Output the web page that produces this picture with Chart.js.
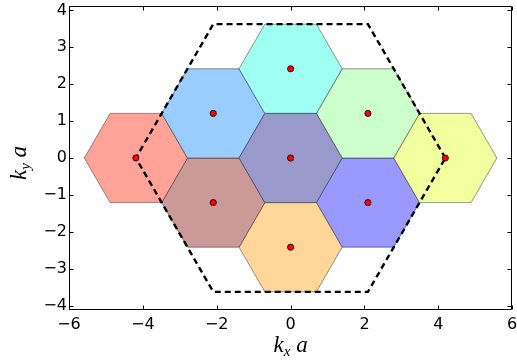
<!DOCTYPE html>
<html>
<head>
<meta charset="utf-8">
<script src="https://cdn.jsdelivr.net/npm/chart.js@4.4.0/dist/chart.umd.min.js"></script>
<style>
  html, body { margin: 0; padding: 0; background: #ffffff; }
  #wrap { width: 517px; height: 361px; }
</style>
</head>
<body>
<div id="wrap"><canvas id="c" width="517" height="361"></canvas></div>
<script>
// ---- data ----
const xTicks = [-6, -4, -2, 0, 2, 4, 6];
const yTicks = [-4, -3, -2, -1, 0, 1, 2, 3, 4];
const xRange = [-6, 6];
const yRange = [-4.12, 4.12];
const hexCentersX = [0, 0, -2.094, 2.094, -4.189, 4.189, -2.094, 0, 2.094];
const hexCentersY = [0, 2.418, 1.209, 1.209, 0, 0, -1.209, -2.418, -1.209];
const hexColors = ['#9999cc', '#9ffff0', '#99ccff', '#ccffcc', '#ffa399', '#f2ff9f', '#cc9999', '#ffd699', '#9999ff'];
const hexRadius = 1.396;
const dashX = [4.189, 2.094, -2.094, -4.189, -2.094, 2.094, 4.189];
const dashY = [0, 3.628, 3.628, 0, -3.628, -3.628, 0];
const xLabel = ['k', 'x', ' a'];
const yLabel = ['k', 'y', ' a'];

// hexagon outline (flat-top) from centre and radius
function hexPoints(cx, cy, r) {
  const pts = [];
  for (let k = 0; k <= 6; k++) {
    const ang = Math.PI / 3 * k;
    pts.push({ x: cx + r * Math.cos(ang), y: cy + r * Math.sin(ang) });
  }
  return pts;
}

const datasets = [];
datasets.push({
  label: 'centres',
  data: hexCentersX.map((x, i) => ({ x: x, y: hexCentersY[i] })),
  showLine: false,
  pointRadius: 3.1,
  pointBackgroundColor: '#ff0000',
  pointBorderColor: '#000000',
  pointBorderWidth: 0.8,
  order: 0
});
datasets.push({
  label: 'BZ',
  data: dashX.map((x, i) => ({ x: x, y: dashY[i] })),
  showLine: true,
  fill: false,
  borderColor: '#000000',
  borderWidth: 2.4,
  borderDash: [6, 4],
  pointRadius: 0,
  tension: 0,
  order: 1
});
hexCentersX.forEach((cx, i) => {
  datasets.push({
    label: 'hex' + i,
    data: hexPoints(cx, hexCentersY[i], hexRadius),
    showLine: true,
    fill: 'shape',
    backgroundColor: hexColors[i],
    borderColor: 'rgba(0,0,0,0.4)',
    borderWidth: 1,
    pointRadius: 0,
    tension: 0,
    order: 2
  });
});

const minus = v => String(v).replace('-', '\u2212');

const framePlugin = {
  id: 'frame',
  afterDraw(chart) {
    const ctx = chart.ctx, a = chart.chartArea;
    const xs = chart.scales.x, ys = chart.scales.y;
    ctx.save();
    ctx.strokeStyle = '#000';
    ctx.lineWidth = 1;
    ctx.beginPath();
    const L = Math.round(a.left) + 0.5, R = Math.round(a.right) - 0.5;
    const T = Math.round(a.top) + 0.5, B = Math.round(a.bottom) - 0.5;
    ctx.rect(L, T, R - L, B - T);
    ctx.stroke();
    const tl = 4;
    ctx.beginPath();
    xTicks.forEach(v => {
      const px = Math.round(xs.getPixelForValue(v)) + 0.5;
      ctx.moveTo(px, B); ctx.lineTo(px, B - tl);
      ctx.moveTo(px, T); ctx.lineTo(px, T + tl);
    });
    yTicks.forEach(v => {
      const py = Math.round(ys.getPixelForValue(v)) + 0.5;
      ctx.moveTo(L, py); ctx.lineTo(L + tl, py);
      ctx.moveTo(R, py); ctx.lineTo(R - tl, py);
    });
    ctx.stroke();

    // axis titles (math-style italic with subscript)
    const big = 'italic 23px "Liberation Serif", "DejaVu Serif", serif';
    const small = 'italic 15px "Liberation Serif", "DejaVu Serif", serif';
    function drawLabel(parts, cx, baseY) {
      ctx.font = big; const w0 = ctx.measureText(parts[0]).width;
      const w2 = ctx.measureText(parts[2]).width;
      ctx.font = small; const w1 = ctx.measureText(parts[1]).width;
      const total = w0 + w1 + w2;
      let x = cx - total / 2;
      ctx.fillStyle = '#000';
      ctx.textBaseline = 'alphabetic';
      ctx.textAlign = 'left';
      ctx.font = big; ctx.fillText(parts[0], x, baseY); x += w0;
      ctx.font = small; ctx.fillText(parts[1], x, baseY + 4); x += w1;
      ctx.font = big; ctx.fillText(parts[2], x, baseY);
    }
    drawLabel(xLabel, (a.left + a.right) / 2, 352);
    ctx.save();
    ctx.translate(26, 163);
    ctx.rotate(-Math.PI / 2);
    drawLabel(yLabel, 0, 0);
    ctx.restore();
    ctx.restore();
  }
};

new Chart(document.getElementById('c'), {
  type: 'scatter',
  data: { datasets: datasets },
  options: {
    responsive: false,
    animation: false,
    devicePixelRatio: 1,
    layout: { padding: { left: 0, right: 3, top: 6, bottom: 0 } },
    plugins: { legend: { display: false }, tooltip: { enabled: false } },
    scales: {
      x: {
        type: 'linear', min: xRange[0], max: xRange[1],
        afterBuildTicks(s) { s.ticks = xTicks.map(v => ({ value: v })); },
        afterFit(s) { s.height = 51; s.paddingLeft = 0; s.paddingRight = 0; },
        grid: { display: false, drawTicks: false },
        border: { display: false },
        ticks: {
          padding: 5, color: '#000', maxRotation: 0, autoSkip: false,
          font: { family: '"DejaVu Sans"', size: 16 },
          callback: v => minus(v)
        }
      },
      y: {
        type: 'linear', min: yRange[0], max: yRange[1],
        afterBuildTicks(s) { s.ticks = yTicks.map(v => ({ value: v })); },
        afterFit(s) { s.width = 69; s.paddingTop = 0; s.paddingBottom = 0; },
        grid: { display: false, drawTicks: false },
        border: { display: false },
        ticks: {
          padding: 2, color: '#000', autoSkip: false,
          font: { family: '"DejaVu Sans"', size: 16 },
          callback: v => minus(v)
        }
      }
    }
  },
  plugins: [framePlugin]
});
</script>
</body>
</html>
